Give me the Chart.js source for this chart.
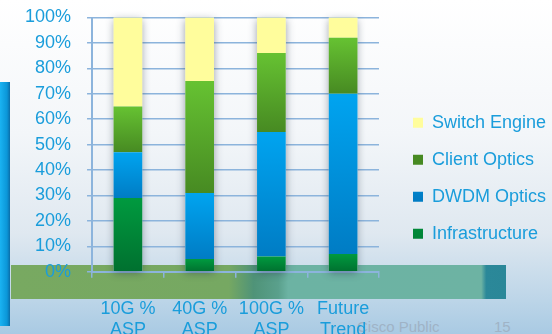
<!DOCTYPE html>
<html>
<head>
<meta charset="utf-8">
<script src="https://cdn.jsdelivr.net/npm/chart.js@4"></script>
<style>
  html, body { margin: 0; padding: 0; }
  body {
    width: 552px; height: 334px; overflow: hidden; position: relative;
    background: linear-gradient(to bottom, #ffffff 0%, #f3f6f9 40%, #dfe8f0 70%, #bcd5e8 90%, #a9cae3 100%);
    font-family: "Liberation Sans", Arial, sans-serif;
  }
  #sideblock {
    position: absolute; left: 0; top: 82px; width: 10px; height: 244px;
    background: linear-gradient(to right, #1ab3f2 0%, #0b96d8 70%, #0a6da8 100%);
  }
  #band {
    position: absolute; left: 11px; top: 265px; width: 495px; height: 34px;
    background: linear-gradient(to right, #78a961 0%, #76a862 44%, #4f9378 49%, #5aa08c 54%, #6cb3a3 56%, #6db3a3 95%, #2b8899 96%, #2a8798 100%);
  }
  #footer { position: absolute; left: 357px; top: 318px; font-size: 15px; color: #9fb3c6; }
  #pagenum { position: absolute; left: 494px; top: 318px; font-size: 15px; color: #9fb3c6; }
  #wrap { position: absolute; left: 0; top: 0; width: 552px; height: 361px; }
</style>
</head>
<body>
<div id="sideblock"></div>
<div id="band"></div>
<div id="footer">Cisco Public</div>
<div id="pagenum">15</div>
<div id="wrap"><canvas id="chart"></canvas></div>
<script>
const categories = [["10G %", "ASP"], ["40G %", "ASP"], ["100G %", "ASP"], ["Future", "Trend"]];
const infrastructure = [29, 5, 6, 7];
const dwdmOptics = [18, 26, 49, 63];
const clientOptics = [18, 44, 31, 22];
const switchEngine = [35, 25, 14, 8];
const yTicks = [0, 10, 20, 30, 40, 50, 60, 70, 80, 90, 100];

const stackOrder = [infrastructure, dwdmOptics, clientOptics, switchEngine];

// top/bottom colours for each segment gradient
const shades = [
  ["#009a3f", "#00702f"],
  ["#00a4f0", "#007cc4"],
  ["#66c232", "#478a22"],
  ["#fffd9c", "#fffd9c"],
];

function segmentFill(dsIndex) {
  return function (context) {
    const chart = context.chart;
    const y = chart.scales.y;
    if (context.dataIndex === undefined || !y) return shades[dsIndex][0];
    let base = 0;
    for (let k = 0; k < dsIndex; k++) base += stackOrder[k][context.dataIndex];
    const top = base + stackOrder[dsIndex][context.dataIndex];
    const y0 = y.getPixelForValue(top);
    const y1 = y.getPixelForValue(base);
    if (!isFinite(y0) || !isFinite(y1) || y0 === y1) return shades[dsIndex][0];
    const g = chart.ctx.createLinearGradient(0, y0, 0, y1);
    g.addColorStop(0, shades[dsIndex][0]);
    g.addColorStop(1, shades[dsIndex][1]);
    return g;
  };
}

const barShadow = {
  id: "barShadow",
  beforeDatasetsDraw(chart) {
    const ctx = chart.ctx;
    const bottomMeta = chart.getDatasetMeta(0);
    const topMeta = chart.getDatasetMeta(stackOrder.length - 1);
    ctx.save();
    ctx.shadowColor = "rgba(40,50,70,0.45)";
    ctx.shadowBlur = 8;
    ctx.shadowOffsetY = 2;
    ctx.fillStyle = "#e8edf2";
    bottomMeta.data.forEach((bar, i) => {
      const t = topMeta.data[i];
      ctx.fillRect(bar.x - bar.width / 2, t.y, bar.width, bar.base - t.y);
    });
    ctx.restore();
  },
};

// legend: fixed width on the right, nudged into place
const legendPlace = {
  id: "legendPlace",
  afterInit(chart) {
    const lg = chart.legend;
    const fit = lg.fit.bind(lg);
    lg.fit = function () { fit(); this.width = 173; };
  },
  afterLayout(chart) {
    const lg = chart.legend;
    lg.left = 394;
    lg.top -= 11;
    lg.bottom -= 11;
  },
};

const tickBlue = "#1a9ddb";
const gridBlue = "#8cb4dc";

new Chart(document.getElementById("chart"), {
  type: "bar",
  data: {
    labels: categories,
    datasets: [
      { label: "Infrastructure", data: infrastructure, backgroundColor: segmentFill(0) },
      { label: "DWDM Optics", data: dwdmOptics, backgroundColor: segmentFill(1) },
      { label: "Client Optics", data: clientOptics, backgroundColor: segmentFill(2) },
      { label: "Switch Engine", data: switchEngine, backgroundColor: segmentFill(3) },
    ],
  },
  options: {
    responsive: true,
    maintainAspectRatio: false,
    animation: false,
    layout: { padding: { left: 9, top: 17.5, right: 0, bottom: 0 } },
    datasets: { bar: { categoryPercentage: 1, barPercentage: 0.4 } },
    scales: {
      x: {
        stacked: true,
        grid: { display: true, drawOnChartArea: false, drawTicks: true, tickLength: 6, color: gridBlue, lineWidth: 1.5 },
        border: { color: gridBlue, width: 2 },
        ticks: { color: tickBlue, font: { size: 18, family: "'Liberation Sans', Arial" }, padding: 20, maxRotation: 0 },
      },
      y: {
        stacked: true,
        min: 0,
        max: 100,
        afterBuildTicks: (axis) => { axis.ticks = yTicks.map((v) => ({ value: v })); },
        afterFit: (axis) => { axis.paddingTop = 0; axis.paddingBottom = 0; },
        grid: { color: gridBlue, lineWidth: 1.5, tickLength: 5 },
        border: { color: gridBlue, width: 2 },
        ticks: { autoSkip: false, color: tickBlue, font: { size: 18, family: "'Liberation Sans', Arial" }, padding: 16, callback: (v) => v + "%" },
      },
    },
    plugins: {
      tooltip: { enabled: false },
      legend: {
        position: "right",
        reverse: true,
        labels: { boxWidth: 10, boxHeight: 10, padding: 19, color: tickBlue, font: { size: 18, family: "'Liberation Sans', Arial" } },
      },
    },
  },
  plugins: [barShadow, legendPlace],
});
</script>
</body>
</html>
